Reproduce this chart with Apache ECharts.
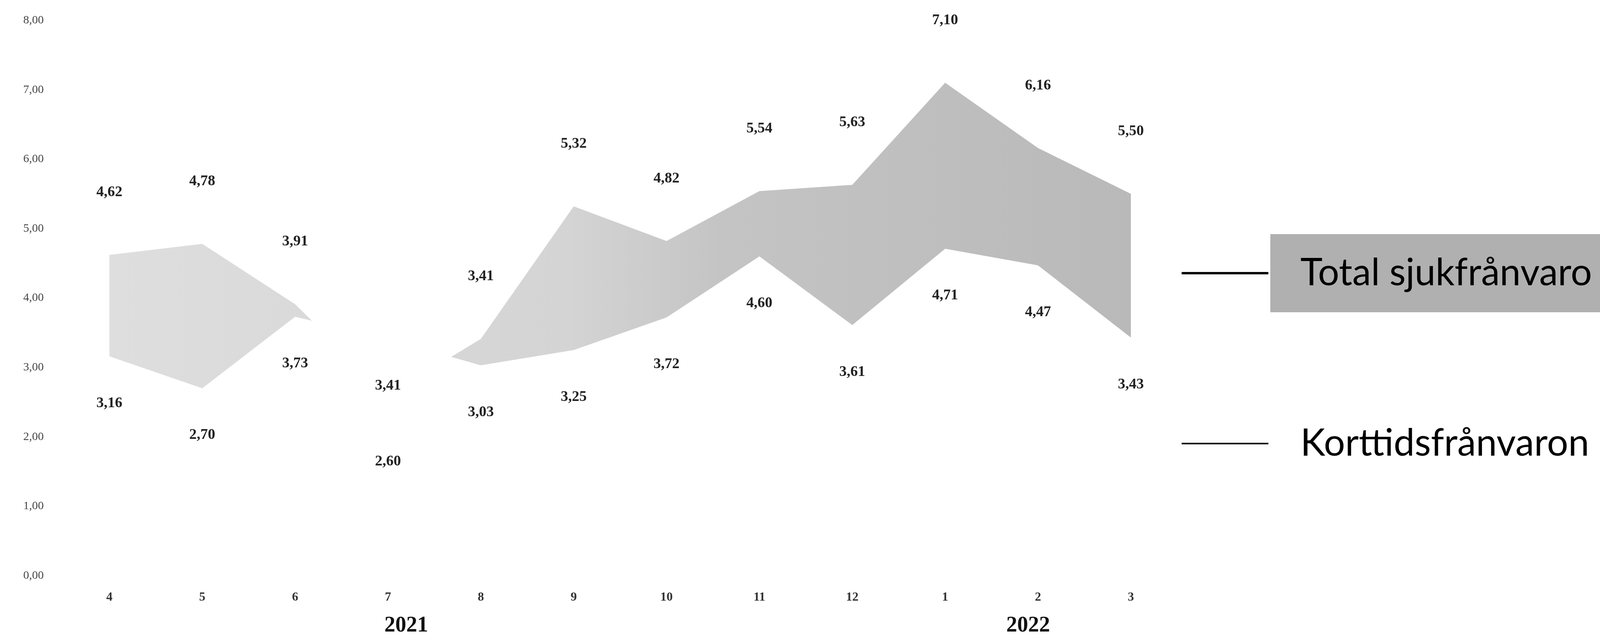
<!DOCTYPE html>
<html>
<head>
<meta charset="utf-8">
<script src="https://cdn.jsdelivr.net/npm/echarts@6/dist/echarts.min.js"></script>
<style>
html,body{margin:0;padding:0;background:#fff;}
#chart{width:4394px;height:1630px;}
</style>
</head>
<body>
<div id="chart"></div>
<script>
// Categories (months April 2021 – March 2022)
const months = ['4','5','6','7','8','9','10','11','12','1','2','3'];
const yearLabels = ['2021','2022'];
// Series values (%)
const totalSjukfranvaro = [4.62, 4.78, 3.91, 2.60, 3.41, 5.32, 4.82, 5.54, 5.63, 7.10, 6.16, 5.50];
const korttidsfranvaron = [3.16, 2.70, 3.73, 3.41, 3.03, 3.25, 3.72, 4.60, 3.61, 4.71, 4.47, 3.43];
// Y axis ticks
const yMin = 0, yMax = 8, yStep = 1;

const fmt = v => Number(v).toFixed(2).replace('.', ',');

const chart = echarts.init(document.getElementById('chart'), null, {renderer: 'canvas'});

const labelFont = {fontFamily: 'Liberation Serif', fontWeight: 'bold', fontSize: 38, color: '#222'};

// label data for the total series: label goes below when total is under the short-term value
const totalLabelData = totalSjukfranvaro.map((v, i) =>
  (v < korttidsfranvaron[i]) ? {value: v, label: {position: 'bottom', distance: 150}} : v);

const option = {
  animation: false,
  backgroundColor: '#ffffff',
  grid: {left: 280, right: 1499, top: 52, bottom: 157, containLabel: false},
  xAxis: {
    type: 'category',
    data: months,
    boundaryGap: false,
    axisLine: {show: false},
    axisTick: {show: false},
    splitLine: {show: false},
    axisLabel: {margin: 40, fontFamily: 'Liberation Serif', fontWeight: 'bold', fontSize: 32, color: '#333'}
  },
  yAxis: {
    type: 'value',
    min: yMin, max: yMax, interval: yStep,
    axisLine: {show: false},
    axisTick: {show: false},
    splitLine: {show: false},
    axisLabel: {margin: 168, formatter: fmt, fontFamily: 'Liberation Serif', fontSize: 30, color: '#444'}
  },
  legend: [
    {
      data: ['Total sjukfrånvaro'],
      left: 3020, top: 594,
      orient: 'vertical',
      icon: 'rect', itemWidth: 222, itemHeight: 6,
      itemStyle: {color: '#000', borderWidth: 0},
      selectedMode: false,
      textStyle: {
        fontFamily: 'Lato', fontSize: 96, color: '#000',
        backgroundColor: '#b0b0b0',
        padding: [52, 380, 52, 77]
      }
    },
    {
      data: ['Korttidsfrånvaron'],
      left: 3020, top: 1082,
      orient: 'vertical',
      icon: 'rect', itemWidth: 222, itemHeight: 4,
      itemStyle: {color: '#000', borderWidth: 0},
      selectedMode: false,
      textStyle: {
        fontFamily: 'Lato', fontSize: 96, color: '#000',
        padding: [0, 0, 0, 77]
      }
    }
  ],
  graphic: [
    {type: 'text', left: 1042 - 58, top: 1574, z: 10,
     style: {text: yearLabels[0], font: 'bold 56px "Liberation Serif"', fill: '#111'}},
    {type: 'text', left: 2634 - 58, top: 1574, z: 10,
     style: {text: yearLabels[1], font: 'bold 56px "Liberation Serif"', fill: '#111'}}
  ],
  series: [
    {
      name: 'Total sjukfrånvaro',
      type: 'line',
      data: totalSjukfranvaro,
      z: 2,
      showSymbol: false,
      lineStyle: {width: 0, color: '#bbb'},
      areaStyle: {
        opacity: 1,
        color: new echarts.graphic.LinearGradient(0, 0, 1, 0, [
          {offset: 0, color: '#dedede'},
          {offset: 0.45, color: '#d4d4d4'},
          {offset: 0.6, color: '#c4c4c4'},
          {offset: 1, color: '#b9b9b9'}
        ])
      }
    },
    {
      name: 'Korttidsfrånvaron',
      type: 'line',
      data: korttidsfranvaron,
      z: 3,
      symbol: 'circle', symbolSize: 2, showSymbol: true,
      itemStyle: {color: 'rgba(0,0,0,0)'},
      lineStyle: {width: 0, color: '#fff'},
      areaStyle: {opacity: 1, color: '#ffffff'},
      label: Object.assign({show: true, position: 'bottom', distance: 100, formatter: p => fmt(p.value)}, labelFont)
    },
    {
      name: 'Total sjukfrånvaro etiketter',
      type: 'line',
      data: totalLabelData,
      z: 5,
      symbol: 'circle', symbolSize: 2, showSymbol: true,
      itemStyle: {color: 'rgba(0,0,0,0)'},
      lineStyle: {width: 0, opacity: 0},
      label: Object.assign({show: true, position: 'top', distance: 140, formatter: p => fmt(p.value)}, labelFont)
    }
  ]
};
chart.setOption(option);
</script>
</body>
</html>
